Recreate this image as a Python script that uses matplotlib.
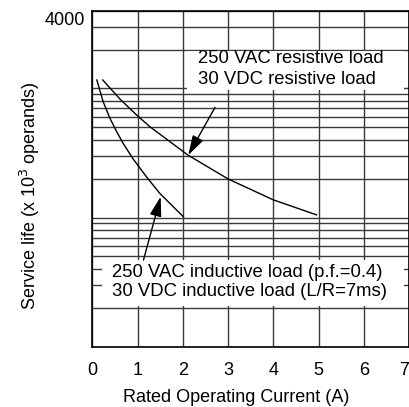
import matplotlib
matplotlib.use("Agg")
import matplotlib.pyplot as plt
from matplotlib.patches import Rectangle
from matplotlib.ticker import LogLocator, NullFormatter, FixedLocator

plt.rcParams['font.family'] = ['Liberation Sans', 'DejaVu Sans']

# Data
resistive_x = [0.23, 0.61, 0.98, 1.27, 2.11, 3.0, 4.0, 4.95]
resistive_y = [1163, 828, 622, 506, 305, 199, 137, 105]
inductive_x = [0.10, 0.24, 0.39, 0.54, 0.68, 0.90, 1.20, 1.49, 2.01]
inductive_y = [1163, 789, 587, 462, 376, 285, 206, 154, 101.5]
x_ticks = [0, 1, 2, 3, 4, 5, 6, 7]
y_label_value = 4000
resistive_labels = ["250 VAC resistive load", "30 VDC resistive load"]
inductive_labels = ["250 VAC inductive load (p.f.=0.4)", "30 VDC inductive load (L/R=7ms)"]

W, H = 410, 407
fig = plt.figure(figsize=(W / 100, H / 100), dpi=100)
L, R, T, B = 92.3, 409.3, 10.7, 346.7
ax = fig.add_axes([L / W, 1 - B / H, (R - L) / W, (B - T) / H])

ax.set_yscale('log')
ax.set_xlim(0, 7)
ax.set_ylim(10, 4000)

gridc = '#3a3a3a'
ax.set_axisbelow(True)
ax.xaxis.set_major_locator(FixedLocator(x_ticks))
ax.yaxis.set_major_locator(LogLocator(base=10, subs=(1.0, 2, 3, 4, 5, 6, 7, 8, 9), numticks=50))
ax.yaxis.set_minor_locator(FixedLocator([]))
ax.yaxis.set_major_formatter(NullFormatter())
ax.grid(True, which='major', axis='both', color=gridc, lw=1.0)
ax.tick_params(axis='both', which='both', length=0)
ax.tick_params(axis='x', pad=11, labelsize=13)
ax.set_xticklabels([str(v) for v in x_ticks])
lbls = ax.get_xticklabels()
lbls[-1].set_horizontalalignment('right')
for s in ax.spines.values():
    s.set_color('black')
    s.set_linewidth(1.2)

# 4000 label near top
ax.annotate(str(y_label_value), xy=(0, y_label_value), xycoords=('axes fraction', 'data'),
            xytext=(-5, -7), textcoords='offset points', ha='right', va='center', fontsize=13)

# white label boxes
ax.add_patch(Rectangle((2.09, 964), 6.88 - 2.09, 1950 - 964, facecolor='white', edgecolor='none', zorder=1))
ax.add_patch(Rectangle((0.21, 20.6), 6.88 - 0.21, 46.9 - 20.6, facecolor='white', edgecolor='none', zorder=1))

# curves
ax.plot(resistive_x, resistive_y, color='black', lw=1.0, zorder=3, clip_on=False)
ax.plot(inductive_x, inductive_y, color='black', lw=1.0, zorder=3, clip_on=False)

# texts
fs = 13.3
ax.text(2.33, 1720, resistive_labels[0], fontsize=fs, va='center', ha='left', zorder=4)
ax.text(2.33, 1163, resistive_labels[1], fontsize=fs, va='center', ha='left', zorder=4)
ax.text(0.43, 37.6, inductive_labels[0], fontsize=fs, va='center', ha='left', zorder=4)
ax.text(0.43, 26.6, inductive_labels[1], fontsize=fs, va='center', ha='left', zorder=4)

# arrows
ap = dict(arrowstyle='-|>,head_length=1.0,head_width=0.3', color='black', lw=1.0,
          shrinkA=0, shrinkB=0, mutation_scale=12)
ax.annotate('', xy=(2.12, 305), xytext=(2.71, 714), arrowprops=ap, zorder=5)
ax.annotate('', xy=(1.51, 145), xytext=(1.13, 46.9), arrowprops=ap, zorder=5)

fig.text(236 / W, 1 - 398 / H, 'Rated Operating Current (A)', ha='center', va='center', fontsize=13)
fig.text(30 / W, 1 - 196 / H, 'Service life (x 10$^3$ operands)', ha='center', va='center',
         rotation=90, fontsize=13)

fig.savefig('out.png', dpi=100)
